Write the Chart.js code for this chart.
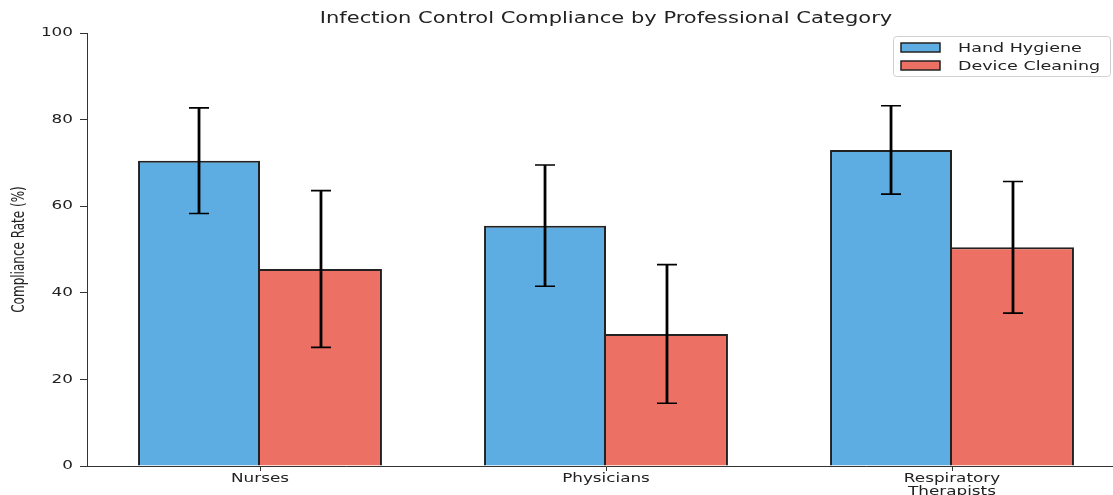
<!DOCTYPE html>
<html>
<head>
<meta charset="utf-8">
<script src="https://cdn.jsdelivr.net/npm/chart.js@4/dist/chart.umd.min.js"></script>
<style>
  html, body { margin: 0; padding: 0; background: #fff; overflow: hidden; }
  #clip { width: 1113px; height: 495px; overflow: hidden; position: relative; }
  #wrap { width: 1125px; height: 495px; position: relative; }
</style>
</head>
<body>
<div id="clip"><div id="wrap"><canvas id="myChart"></canvas></div></div>
<script>
const categories = ['Nurses', 'Physicians', ['Respiratory', 'Therapists']];
const handHygiene = [70.5, 55.5, 73.0];
const handHygieneErr = [12.2, 14.0, 10.2];
const deviceCleaning = [45.5, 30.5, 50.5];
const deviceCleaningErr = [18.1, 16.0, 15.2];
const yTicks = [0, 20, 40, 60, 80, 100];

const chartTitle = 'Infection Control Compliance by Professional Category';
const yTitle = 'Compliance Rate (%)';
const FONT = '"DejaVu Sans", sans-serif';
const SX = 1.4; // the original picture is stretched sideways

function wideText(ctx, text, x, y, size, align) {
  ctx.save();
  ctx.translate(x, y);
  ctx.scale(SX, 1);
  ctx.font = size + 'px ' + FONT;
  ctx.textAlign = align;
  ctx.textBaseline = 'middle';
  ctx.fillText(text, 0, 0);
  ctx.restore();
}

// error bars on top of the bars
const errorBars = {
  id: 'errorBars',
  afterDatasetsDraw(chart) {
    const ctx = chart.ctx;
    const y = chart.scales.y;
    chart.data.datasets.forEach((ds, i) => {
      const meta = chart.getDatasetMeta(i);
      meta.data.forEach((bar, j) => {
        const v = ds.data[j], e = ds.errors[j];
        const top = y.getPixelForValue(v + e);
        const bot = y.getPixelForValue(v - e);
        ctx.save();
        ctx.strokeStyle = '#000';
        ctx.lineWidth = 2.8;
        ctx.beginPath();
        ctx.moveTo(bar.x, top);
        ctx.lineTo(bar.x, bot);
        ctx.stroke();
        ctx.lineWidth = 1.6;
        ctx.beginPath();
        ctx.moveTo(bar.x - 10, top); ctx.lineTo(bar.x + 10, top);
        ctx.moveTo(bar.x - 10, bot); ctx.lineTo(bar.x + 10, bot);
        ctx.stroke();
        ctx.restore();
      });
    });
  }
};

// texts (stretched), legend box
const decorations = {
  id: 'decorations',
  afterDraw(chart) {
    const ctx = chart.ctx;
    const area = chart.chartArea;
    const xs = chart.scales.x, ys = chart.scales.y;
    ctx.save();
    ctx.fillStyle = '#222';

    wideText(ctx, chartTitle, (area.left + area.right) / 2, 19, 15, 'center');

    // tick labels
    yTicks.forEach(v => wideText(ctx, String(v), 73, ys.getPixelForValue(v), 12, 'right'));
    categories.forEach((c, i) => {
      const lines = Array.isArray(c) ? c : [c];
      lines.forEach((t, k) => wideText(ctx, t, xs.getPixelForTick(i), 479 + k * 13, 12, 'center'));
    });

    // y axis title, rotated: stretch shows up as glyph height
    ctx.save();
    ctx.translate(20, (area.top + area.bottom) / 2);
    ctx.rotate(-Math.PI / 2);
    ctx.scale(1, SX);
    ctx.font = '12px ' + FONT;
    ctx.textAlign = 'center';
    ctx.textBaseline = 'middle';
    ctx.fillText(yTitle, 0, 0);
    ctx.restore();

    // legend
    const lx = 893, ly = 36, lw = 217, lh = 40;
    ctx.fillStyle = 'rgba(255,255,255,0.85)';
    ctx.strokeStyle = '#d0d0d0';
    ctx.lineWidth = 1;
    ctx.beginPath();
    ctx.roundRect(lx + 0.5, ly + 0.5, lw, lh, 3);
    ctx.fill();
    ctx.stroke();
    chart.data.datasets.forEach((ds, i) => {
      const cy = 47.5 + i * 18;
      ctx.fillStyle = ds.backgroundColor;
      ctx.fillRect(901, cy - 4.5, 39, 9);
      ctx.strokeStyle = '#222';
      ctx.lineWidth = 1.5;
      ctx.strokeRect(901, cy - 4.5, 39, 9);
      ctx.fillStyle = '#222';
      wideText(ctx, ds.label, 958, cy + 1, 12.5, 'left');
    });
    ctx.restore();
  }
};

new Chart(document.getElementById('myChart'), {
  type: 'bar',
  data: {
    labels: categories,
    datasets: [
      {
        label: 'Hand Hygiene',
        data: handHygiene,
        errors: handHygieneErr,
        backgroundColor: '#5DADE2',
        borderColor: '#222',
        borderWidth: 2
      },
      {
        label: 'Device Cleaning',
        data: deviceCleaning,
        errors: deviceCleaningErr,
        backgroundColor: '#EC7063',
        borderColor: '#222',
        borderWidth: { top: 2, right: 2, bottom: 0, left: 0 }
      }
    ]
  },
  plugins: [errorBars, decorations],
  options: {
    responsive: true,
    maintainAspectRatio: false,
    animation: false,
    layout: { padding: { top: 33, right: 0, left: 0, bottom: 0 } },
    datasets: {
      bar: { categoryPercentage: 0.705, barPercentage: 1.0 }
    },
    plugins: {
      legend: { display: false },
      title: { display: false },
      tooltip: { enabled: false }
    },
    scales: {
      x: {
        offset: true,
        afterFit(scale) { scale.height = 29; },
        grid: { display: true, offset: false, drawOnChartArea: false, drawTicks: true, tickLength: 5, color: '#333' },
        border: { display: true, color: '#333', width: 1 },
        ticks: { display: false, autoSkip: false }
      },
      y: {
        min: 0,
        max: 100,
        afterFit(scale) { scale.width = 87; },
        afterBuildTicks(scale) { scale.ticks = yTicks.map(v => ({ value: v })); },
        grid: { display: true, drawOnChartArea: false, drawTicks: true, tickLength: 7, color: '#333' },
        border: { display: true, color: '#333', width: 1 },
        ticks: { display: false }
      }
    }
  }
});
</script>
</body>
</html>
